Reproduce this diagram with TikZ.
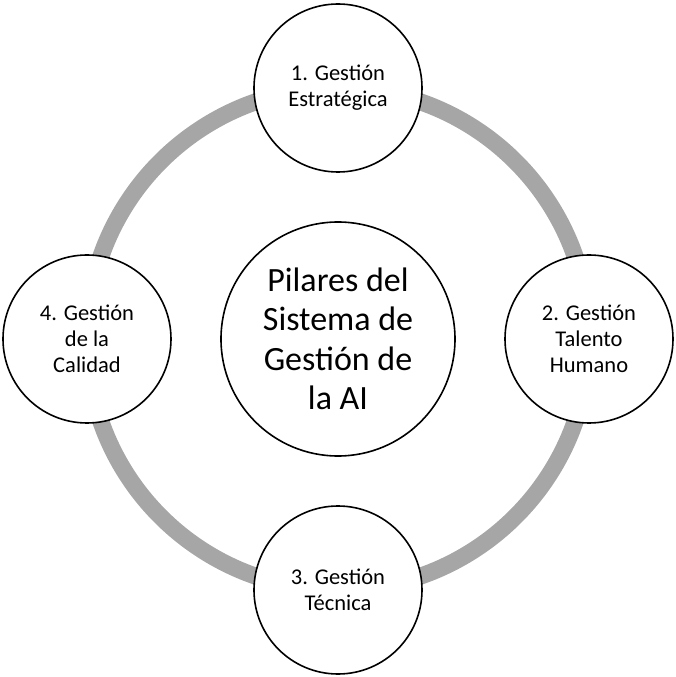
\documentclass[tikz,border=0pt]{standalone}
\usepackage{fontspec}
\setmainfont{Carlito}
\usetikzlibrary{positioning,backgrounds}
\usepackage{xcolor}
\definecolor{ringgray}{HTML}{A6A6A6}
\tikzstyle{pilar_cust}=[circle, draw=black, line width=1.6pt, fill=white, minimum size=168pt, inner sep=0pt, align=center, font=\fontsize{22.5}{26}\selectfont]
\tikzstyle{center_cust}=[circle, draw=black, line width=1.6pt, fill=white, minimum size=234pt, inner sep=0pt, align=center, font=\fontsize{34}{39.5}\selectfont]
\tikzstyle{ring}=[ringgray, line width=17pt]

\begin{document}
\begin{tikzpicture}[
    node distance=251pt,
    on grid]

\useasboundingbox (-338pt,-338pt) rectangle (338pt,339pt);

% central node
        \node[center_cust] (sys) at (0,0) {Pilares del\\Sistema de\\Gestión de\\la AI};

% pillars
        \node[pilar_cust, above=of sys] (estr) {1. Gestión\\Estratégica};
        \node[pilar_cust, right=of sys] (talento) {2. Gestión\\Talento\\Humano};
        \node[pilar_cust, below=of sys] (tecnica) {3. Gestión\\Técnica};
        \node[pilar_cust, left=of sys] (calidad) {4. Gestión\\de la\\Calidad};

% gray ring behind the pillars
        \begin{scope}[on background layer]
            \draw[ring] (sys.center) circle (251pt);
        \end{scope}

\end{tikzpicture}
\end{document}
